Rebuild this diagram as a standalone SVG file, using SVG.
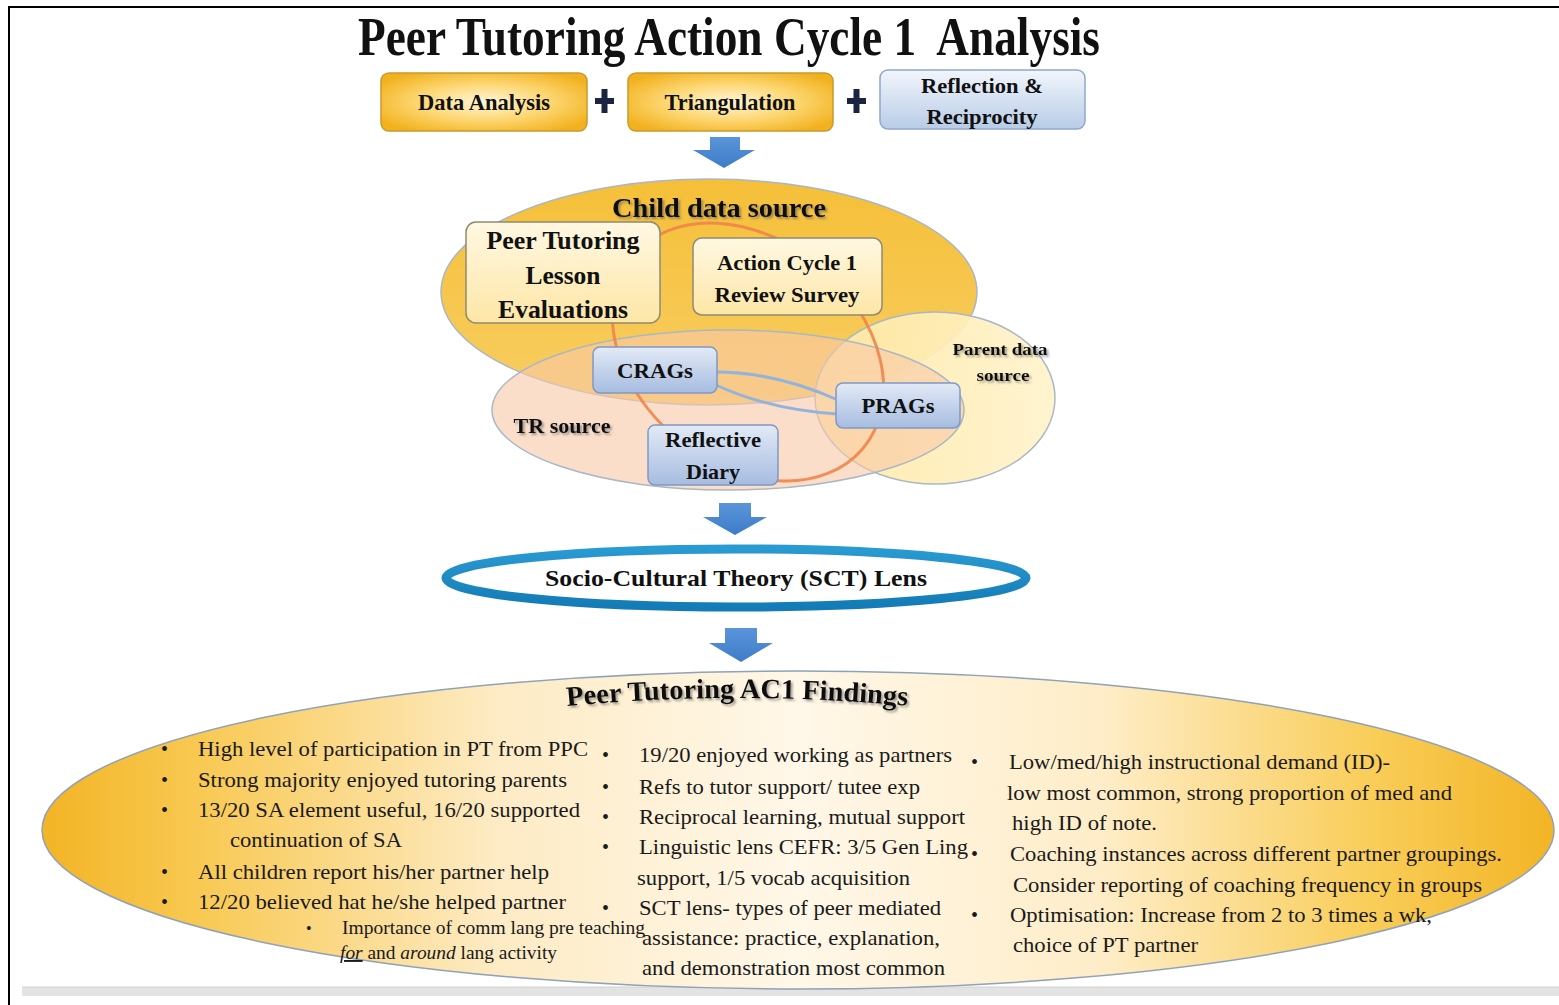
<svg xmlns="http://www.w3.org/2000/svg" width="1559" height="1005" viewBox="0 0 1559 1005">
<defs>
<radialGradient id="gold" cx="0.5" cy="0.5" r="0.6">
<stop offset="0" stop-color="#FFF6D8"/><stop offset="0.55" stop-color="#FCD56E"/><stop offset="1" stop-color="#F2B21F"/>
</radialGradient>
<linearGradient id="blueBox" x1="0" y1="0" x2="0" y2="1">
<stop offset="0" stop-color="#F2F6FC"/><stop offset="1" stop-color="#B8CCE6"/>
</linearGradient>
<linearGradient id="blueNode" x1="0" y1="0" x2="0" y2="1">
<stop offset="0" stop-color="#E2EAF6"/><stop offset="1" stop-color="#A6BCE0"/>
</linearGradient>
<linearGradient id="cream" x1="0" y1="0" x2="0" y2="1">
<stop offset="0" stop-color="#FFF8E2"/><stop offset="1" stop-color="#FDE6A6"/>
</linearGradient>
<linearGradient id="childFill" x1="0" y1="0" x2="0" y2="1">
<stop offset="0" stop-color="#F5BF38"/><stop offset="1" stop-color="#F8CE62"/>
</linearGradient>
<linearGradient id="parentFill" x1="0" y1="0" x2="1" y2="0">
<stop offset="0" stop-color="#FFE9A6"/><stop offset="1" stop-color="#FFF3CC"/>
</linearGradient>
<linearGradient id="arrowFill" x1="0" y1="0" x2="0" y2="1">
<stop offset="0" stop-color="#5A95DA"/><stop offset="1" stop-color="#3E7CC8"/>
</linearGradient>
<linearGradient id="lensStroke" x1="0" y1="0" x2="0" y2="1">
<stop offset="0" stop-color="#2A9AD2"/><stop offset="1" stop-color="#137BB6"/>
</linearGradient>
<linearGradient id="findFill" x1="0" y1="0" x2="1" y2="0">
<stop offset="0" stop-color="#F3B425"/><stop offset="0.1" stop-color="#F8C850"/><stop offset="0.3" stop-color="#FDEBC4"/><stop offset="0.5" stop-color="#FFF7E8"/><stop offset="0.7" stop-color="#FEEDC8"/><stop offset="0.88" stop-color="#F9CD58"/><stop offset="1" stop-color="#F3B425"/>
</linearGradient>
<filter id="shadow" x="-10%" y="-30%" width="120%" height="160%">
<feDropShadow dx="2" dy="2" stdDeviation="1.2" flood-color="#555" flood-opacity="0.55"/>
</filter>
<path id="arc" d="M 567 706 Q 737 690 910 706"/>
</defs>
<style>
.serif{font-family:"Liberation Serif","Times New Roman",serif;}
.b{font-weight:bold;fill:#111;}
.body{font-family:"Liberation Serif","Times New Roman",serif;font-size:22px;fill:#1a1a1a;}
.small{font-size:18px;}
.goldbox{fill:url(#gold);stroke:#C89A2E;stroke-width:1.5;}
.bluebox{fill:url(#blueBox);stroke:#8FA8CC;stroke-width:1.5;}
.node{fill:url(#blueNode);stroke:#7F98C6;stroke-width:1.5;}
.creambox{fill:url(#cream);stroke:#8E8A72;stroke-width:1.5;}
.arrow{fill:url(#arrowFill);}
.plus{fill:#1B2440;}
.bullet{font-family:"Liberation Serif",serif;font-size:20px;fill:#1a1a1a;}
</style>

<g id="frame">
<line x1="8" y1="7" x2="1559" y2="7" stroke="#000" stroke-width="2"/>
<line x1="9" y1="6" x2="9" y2="1005" stroke="#000" stroke-width="2"/>
<rect x="22" y="987" width="1537" height="9" fill="#E3E3E3"/>
<line x1="22" y1="987" x2="1559" y2="987" stroke="#D2D2D2" stroke-width="1"/>
</g>

<g id="title">
<text class="serif b" x="729" y="55" font-size="54" text-anchor="middle" textLength="742" lengthAdjust="spacingAndGlyphs" xml:space="preserve" style="white-space:pre">Peer Tutoring Action Cycle 1  Analysis</text>
</g>

<g id="node-data-analysis">
<rect class="goldbox" x="381" y="73" width="206" height="58" rx="8"/>
<text class="serif b" x="484" y="110" font-size="23" text-anchor="middle" textLength="132" lengthAdjust="spacingAndGlyphs">Data Analysis</text>
</g>
<g id="plus1"><rect class="plus" x="595" y="98" width="19" height="6"/><rect class="plus" x="601.5" y="89" width="6" height="24"/></g>
<g id="node-triangulation">
<rect class="goldbox" x="628" y="73" width="205" height="58" rx="8"/>
<text class="serif b" x="730" y="110" font-size="23" text-anchor="middle" textLength="131" lengthAdjust="spacingAndGlyphs">Triangulation</text>
</g>
<g id="plus2"><rect class="plus" x="847" y="98" width="19" height="6"/><rect class="plus" x="853.5" y="89" width="6" height="24"/></g>
<g id="node-reflection">
<rect class="bluebox" x="880" y="70" width="205" height="59" rx="8"/>
<text class="serif b" x="982" y="93" font-size="22" text-anchor="middle" textLength="122" lengthAdjust="spacingAndGlyphs">Reflection &amp;</text>
<text class="serif b" x="982" y="124" font-size="22" text-anchor="middle" textLength="111" lengthAdjust="spacingAndGlyphs">Reciprocity</text>
</g>

<g id="connectors">
<path class="arrow" d="M710 137 H740 V150 H755 L724 168 L693 150 H710 Z"/>
<path class="arrow" d="M719 503 H751 V517 H767 L735 535 L703 517 H719 Z"/>
<path class="arrow" d="M725 628 H757 V643 H773 L741 662 L709 643 H725 Z"/>
</g>

<g id="node-child-source">
<ellipse cx="709" cy="292" rx="268" ry="113" fill="url(#childFill)" stroke="#A9B7C6" stroke-width="1.5"/>
</g>
<g id="node-parent-source">
<ellipse cx="935" cy="398" rx="120" ry="86" fill="url(#parentFill)" fill-opacity="0.92" stroke="#A9B7C6" stroke-width="1.5"/>
</g>
<g id="node-tr-source">
<ellipse cx="728" cy="410" rx="236" ry="80" fill="#F8C8A6" fill-opacity="0.6" stroke="#A9B7C6" stroke-width="1.5"/>
</g>
<g id="links">
<ellipse cx="748" cy="352" rx="150" ry="112" fill="none" stroke="#F0844A" stroke-width="3" stroke-opacity="0.9" transform="rotate(40 748 352)"/>
<path d="M716 372 Q775 372 838 400" fill="none" stroke="#92B4DA" stroke-width="3"/>
<path d="M716 385 Q770 410 838 414" fill="none" stroke="#92B4DA" stroke-width="3"/>
</g>
<g id="labels-sources" filter="url(#shadow)">
<text class="serif b" x="719" y="217" font-size="28" text-anchor="middle" textLength="214" lengthAdjust="spacingAndGlyphs">Child data source</text>
<text class="serif b" x="1000" y="355" font-size="17" text-anchor="middle" textLength="95" lengthAdjust="spacingAndGlyphs">Parent data</text>
<text class="serif b" x="1003" y="381" font-size="17" text-anchor="middle" textLength="53" lengthAdjust="spacingAndGlyphs">source</text>
<text class="serif b" x="562" y="433" font-size="21" text-anchor="middle" textLength="97" lengthAdjust="spacingAndGlyphs">TR source</text>
</g>

<g id="node-pt-lesson-eval">
<rect class="creambox" x="466" y="222" width="194" height="101" rx="10"/>
<text class="serif b" x="563" y="249" font-size="25" text-anchor="middle" textLength="153" lengthAdjust="spacingAndGlyphs">Peer Tutoring</text>
<text class="serif b" x="563" y="284" font-size="25" text-anchor="middle" textLength="75" lengthAdjust="spacingAndGlyphs">Lesson</text>
<text class="serif b" x="563" y="318" font-size="25" text-anchor="middle" textLength="130" lengthAdjust="spacingAndGlyphs">Evaluations</text>
</g>
<g id="node-ac1-survey">
<rect class="creambox" x="693" y="238" width="189" height="77" rx="9"/>
<text class="serif b" x="787" y="270" font-size="22" text-anchor="middle" textLength="140" lengthAdjust="spacingAndGlyphs">Action Cycle 1</text>
<text class="serif b" x="787" y="302" font-size="22" text-anchor="middle" textLength="145" lengthAdjust="spacingAndGlyphs">Review Survey</text>
</g>
<g id="node-crags">
<rect class="node" x="593" y="347" width="124" height="46" rx="7"/>
<text class="serif b" x="655" y="378" font-size="22" text-anchor="middle" textLength="76" lengthAdjust="spacingAndGlyphs">CRAGs</text>
</g>
<g id="node-prags">
<rect class="node" x="836" y="383" width="124" height="45" rx="7"/>
<text class="serif b" x="898" y="413" font-size="22" text-anchor="middle" textLength="73" lengthAdjust="spacingAndGlyphs">PRAGs</text>
</g>
<g id="node-reflective-diary">
<rect class="node" x="648" y="425" width="130" height="60" rx="7"/>
<text class="serif b" x="713" y="447" font-size="22" text-anchor="middle" textLength="96" lengthAdjust="spacingAndGlyphs">Reflective</text>
<text class="serif b" x="713" y="479" font-size="22" text-anchor="middle" textLength="54" lengthAdjust="spacingAndGlyphs">Diary</text>
</g>

<g id="node-sct-lens">
<ellipse cx="736" cy="578" rx="290" ry="29" fill="#FFFFFF" stroke="url(#lensStroke)" stroke-width="9"/>
<text class="serif b" x="736" y="586" font-size="24" text-anchor="middle" textLength="382" lengthAdjust="spacingAndGlyphs">Socio-Cultural Theory (SCT) Lens</text>
</g>

<g id="node-findings">
<ellipse cx="798" cy="830" rx="756" ry="159" fill="url(#findFill)" stroke="#8FA2B8" stroke-width="1.5"/>
<text class="serif b" font-size="28" filter="url(#shadow)"><textPath href="#arc" textLength="341" lengthAdjust="spacingAndGlyphs">Peer Tutoring AC1 Findings</textPath></text>

<g class="body">
<text x="161" y="756" class="bullet">•</text>
<text x="198" y="756" textLength="390" lengthAdjust="spacingAndGlyphs">High level of participation in PT from PPC</text>
<text x="161" y="787" class="bullet">•</text>
<text x="198" y="787" textLength="369" lengthAdjust="spacingAndGlyphs">Strong majority enjoyed tutoring parents</text>
<text x="161" y="817" class="bullet">•</text>
<text x="198" y="817" textLength="382" lengthAdjust="spacingAndGlyphs">13/20 SA element useful, 16/20 supported</text>
<text x="230" y="847" textLength="172" lengthAdjust="spacingAndGlyphs">continuation of SA</text>
<text x="161" y="879" class="bullet">•</text>
<text x="198" y="879" textLength="351" lengthAdjust="spacingAndGlyphs">All children report his/her partner help</text>
<text x="161" y="909" class="bullet">•</text>
<text x="198" y="909" textLength="368" lengthAdjust="spacingAndGlyphs">12/20 believed hat he/she helped partner</text>
<text x="306" y="934" class="bullet" style="font-size:16px">•</text>
<text x="342" y="934" class="small" textLength="303" lengthAdjust="spacingAndGlyphs">Importance of comm lang pre teaching</text>
<text x="340" y="959" class="small" style="font-size:19px" textLength="217" lengthAdjust="spacingAndGlyphs"><tspan font-style="italic" text-decoration="underline">for</tspan> and <tspan font-style="italic">around</tspan> lang activity</text>

<text x="602" y="762" class="bullet">•</text>
<text x="639" y="762" textLength="313" lengthAdjust="spacingAndGlyphs">19/20 enjoyed working as partners</text>
<text x="602" y="794" class="bullet">•</text>
<text x="639" y="794" textLength="281" lengthAdjust="spacingAndGlyphs">Refs to tutor support/ tutee exp</text>
<text x="602" y="824" class="bullet">•</text>
<text x="639" y="824" textLength="326" lengthAdjust="spacingAndGlyphs">Reciprocal learning, mutual support</text>
<text x="602" y="854" class="bullet">•</text>
<text x="639" y="854" textLength="329" lengthAdjust="spacingAndGlyphs">Linguistic lens CEFR: 3/5 Gen Ling</text>
<text x="637" y="885" textLength="273" lengthAdjust="spacingAndGlyphs">support, 1/5 vocab acquisition</text>
<text x="602" y="915" class="bullet">•</text>
<text x="639" y="915" textLength="302" lengthAdjust="spacingAndGlyphs">SCT lens- types of peer mediated</text>
<text x="642" y="945" textLength="298" lengthAdjust="spacingAndGlyphs">assistance: practice, explanation,</text>
<text x="642" y="975" textLength="303" lengthAdjust="spacingAndGlyphs">and demonstration most common</text>

<text x="971" y="769" class="bullet">•</text>
<text x="1009" y="769" textLength="381" lengthAdjust="spacingAndGlyphs">Low/med/high instructional demand (ID)-</text>
<text x="1007" y="800" textLength="445" lengthAdjust="spacingAndGlyphs">low most common, strong proportion of med and</text>
<text x="1012" y="830" textLength="145" lengthAdjust="spacingAndGlyphs">high ID of note.</text>
<text x="971" y="861" class="bullet">•</text>
<text x="1010" y="861" textLength="492" lengthAdjust="spacingAndGlyphs">Coaching instances across different partner groupings.</text>
<text x="1013" y="892" textLength="469" lengthAdjust="spacingAndGlyphs">Consider reporting of coaching frequency in groups</text>
<text x="971" y="922" class="bullet">•</text>
<text x="1010" y="922" textLength="422" lengthAdjust="spacingAndGlyphs">Optimisation: Increase from 2 to 3 times a wk,</text>
<text x="1013" y="952" textLength="185" lengthAdjust="spacingAndGlyphs">choice of PT partner</text>
</g>
</g>
</svg>
